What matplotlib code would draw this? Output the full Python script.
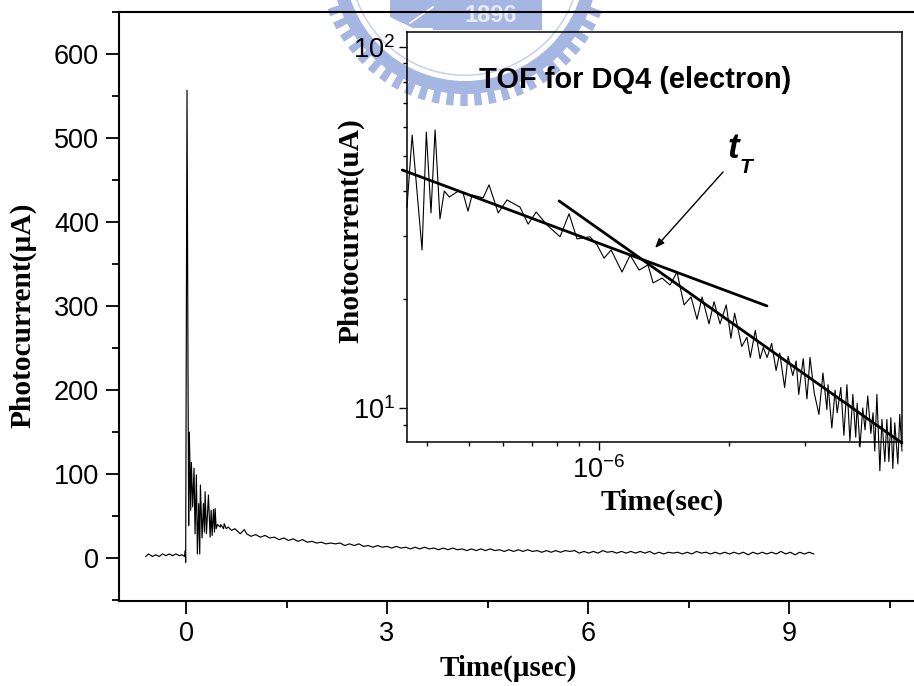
import numpy as np
import matplotlib
matplotlib.use("Agg")
import matplotlib.pyplot as plt
from matplotlib.patches import Wedge, Rectangle, Polygon
from matplotlib.ticker import FixedLocator, NullFormatter, MultipleLocator

plt.rcParams['font.family'] = ['Liberation Sans', 'DejaVu Sans']
plt.rcParams['mathtext.fontset'] = 'custom'
plt.rcParams['mathtext.rm'] = 'Liberation Sans'

# ---- main trace (time in microseconds, photocurrent in microamps)
pre_time = [-0.60,-0.56,-0.50,-0.45,-0.40,-0.35,-0.30,-0.25,-0.20,-0.15,-0.10,-0.06,-0.02,-0.01]
pre_current = [2,5,2,4,2,5,3,5,3,5,3,4,2,9]
burst_time = [-0.005,0.005,0.015,0.03,0.04,0.05,0.07,0.08,0.10,0.12,0.135,0.155,0.17,0.19,0.205,0.215,0.24,0.26,0.275,0.285,0.305,0.335,0.36,0.375,0.39,0.41,0.425,0.435,0.45,0.47,0.51,0.52,0.56,0.57,0.60,0.63,0.68,0.73,0.81,0.87,0.905]
burst_current = [-5,300,557,220,39,150,57,114,61,107,29,99,5,65,5,87,24,65,31,79,29,75,25,57,27,58,31,59,35,40,37,40,35,41,35,37,33,35,29,34,29]
tail_time = [0.97,1.04,1.11,1.18,1.25,1.32,1.39,1.46,1.53,1.60,1.67,1.74,1.81,1.88,1.95,2.02,2.09,2.16,2.23,2.30,2.37,2.44,2.51,2.58,2.65,2.72,2.79,2.86,2.93,3.00,
             3.07,3.14,3.21,3.28,3.35,3.42,3.49,3.56,3.63,3.70,3.77,3.84,3.91,3.98,4.05,4.12,4.19,4.26,4.33,4.40,4.47,4.54,4.61,4.68,4.75,4.82,4.89,4.96,5.03,5.10,
             5.17,5.24,5.31,5.38,5.45,5.52,5.59,5.66,5.73,5.80,5.87,5.94,6.01,6.08,6.15,6.22,6.29,6.36,6.43,6.50,6.57,6.64,6.71,6.78,6.85,6.92,6.99,7.06,7.13,7.20,
             7.27,7.34,7.41,7.48,7.55,7.62,7.69,7.76,7.83,7.90,7.97,8.04,8.11,8.18,8.25,8.32,8.39,8.46,8.53,8.60,8.67,8.74,8.81,8.88,8.95,9.02,9.09,9.16,9.23,9.30,9.37]
tail_current = [26,28,25,27,24,25,22,24,21,23,20,22,19,20,18,19,17,18,17,18,15,17,15,17,14,15,13,15,13,14,
                12,14,12,13,11,13,11,13,11,12,10,12,10,12,10,11,9,11,9,11,9,11,9,10,8,10,8,10,8,10,
                8,9,7,9,7,9,7,9,8,9,6,8,6,8,6,9,7,8,6,8,6,8,6,8,6,8,5,7,5,7,
                6,7,5,7,5,8,6,7,5,7,5,7,5,7,5,7,4,7,5,7,5,7,5,8,5,7,4,7,5,7,5]

# ---- inset trace (time in microseconds, photocurrent in microamps)
inset_time = [0.359,0.369,0.389,0.398,0.408,0.417,0.428,0.438,0.45,0.472,0.484,0.497,0.508,0.539,0.556,0.584,0.612,0.656,0.685,0.715,0.758,0.812,0.852,0.889,0.953,0.989,1.027,1.066,1.13,1.18,1.238,1.298,1.334,1.399,1.46,1.515,1.573,1.633,1.686,1.732,1.797,1.846,1.906,
              1.97,2.02,2.06,2.14,2.2,2.24,2.3,2.36,2.4,2.45,2.51,2.57,2.62,2.69,2.74,2.81,2.86,2.9,2.97,3.03,3.08,3.15,3.23,3.3,3.37,3.39,3.46,3.52,3.56,3.63,3.69,3.75,3.81,3.87,3.93,3.96,4.02,4.08,4.13,4.19,4.26,4.31,4.35,4.4,4.47,4.52,4.59,4.64,4.69,4.74,4.79,4.84,4.92,4.97,5.03]
inset_current = [36.0,57.0,27.4,58.1,34.7,58.9,33.4,39.9,38.4,39.9,39.4,35.1,38.9,38.2,41.5,34.7,37.7,36.0,32.3,34.9,32.1,29.8,34.5,29.4,29.8,28.3,26.0,27.4,23.8,26.5,24.1,24.9,22.2,22.9,21.9,23.8,19.3,20.3,17.6,20.3,17.1,19.7,17.1,19.3,15.6,18.3,14.8,15.7,13.8,16.4,13.7,14.7,13.8,15.1,12.7,14.2,11.4,13.9,12.3,13.5,10.9,13.7,10.6,13.8,11.0,9.6,12.5,9.9,11.6,8.8,11.2,9.7,11.4,8.4,11.6,8.1,10.9,8.3,10.3,7.8,10.0,8.7,10.8,8.5,9.7,7.6,10.9,6.7,9.3,7.1,9.3,7.1,9.4,6.8,9.1,7.0,9.6,7.6]
fit_early_time = [0.350,2.448]
fit_early_current = [45.63,19.17]
fit_late_time = [0.808,5.028]
fit_late_current = [37.45,8.00]
arrow_start = (1.937,45.05)
arrow_tip = (1.348,27.75)

W, H = 914, 686
fig = plt.figure(figsize=(W/100, H/100), dpi=100, facecolor='white')
def box(l, t, r, b):
    return [l/W, 1-b/H, (r-l)/W, (b-t)/H]

# ---- watermark seal behind everything (figure pixel space)
bg = fig.add_axes([0,0,1,1], zorder=0)
bg.set_xlim(0,W); bg.set_ylim(H,0); bg.axis('off')
seal = '#a6b6e2'
cx, cy = 465, -40
bg.add_patch(Wedge((cx,cy),134,0,180,width=13,fc=seal,ec='none'))
for a in np.arange(22,160,5.7):
    bg.add_patch(Wedge((cx,cy),146,a-1.5,a+1.5,width=14,fc=seal,ec='none'))
bg.add_patch(Wedge((cx,cy),116,0,180,width=1.5,fc='#c6d0ec',ec='none'))
bg.add_patch(Rectangle((433,0),109,30,fc=seal,ec='none'))
bg.add_patch(Polygon([(390,0),(433,0),(433,28),(413,28),(390,17)],fc=seal,ec='none'))
bg.plot([410,433],[23,7],color='white',lw=1.2)
bg.text(491,15,'1896',color='#e6ebf8',ha='center',va='center',fontsize=17,fontweight='bold')

# ---- main axes
ax = fig.add_axes(box(119,12,914,601), zorder=1)
ax.patch.set_alpha(0)
ax.set_xlim(-1,(914-186)/67)
ax.set_ylim(-51,650)
ax.plot(pre_time+burst_time+tail_time, pre_current+burst_current+tail_current, color='black', lw=0.85)
ax.spines['right'].set_visible(False)
for s in ('left','bottom','top'):
    ax.spines[s].set_linewidth(1.5)
ax.set_xticks([0,3,6,9])
ax.xaxis.set_minor_locator(MultipleLocator(1.5))
ax.set_yticks([0,100,200,300,400,500,600])
ax.yaxis.set_minor_locator(MultipleLocator(50))
ax.tick_params(axis='both', which='major', length=9.4, width=1.3, labelsize=19.5, pad=5)
ax.tick_params(axis='both', which='minor', length=5, width=1.3)
ax.set_xlabel('Time(\u00b5sec)', family=['Liberation Serif'], fontweight='bold', fontsize=21)
ax.xaxis.set_label_coords((508-119)/795, -(668-601)/589, transform=ax.transAxes)
ax.xaxis.label.set_verticalalignment('center')
ax.set_ylabel('Photocurrent(\u00b5A)', family=['Liberation Serif'], fontweight='bold', fontsize=21.2)
ax.yaxis.set_label_coords(-(119-23)/795, (601-315)/589, transform=ax.transAxes)
ax.yaxis.label.set_verticalalignment('center')

# ---- inset axes
ins = fig.add_axes(box(407,32,902,442), zorder=2)
ins.patch.set_alpha(0)
ins.set_xscale('log'); ins.set_yscale('log')
ins.set_xlim(3.59e-7,5.03e-6)
ins.set_ylim(8.05,110)
to_sec = 1e-6
ins.plot(np.array(inset_time)*to_sec, inset_current, color='black', lw=0.8, clip_on=False)
ins.plot(np.array(fit_early_time)*to_sec, fit_early_current, color='black', lw=2.0, clip_on=False, solid_capstyle='round')
ins.plot(np.array(fit_late_time)*to_sec, fit_late_current, color='black', lw=2.0, clip_on=False, solid_capstyle='round')
ins.annotate('', xy=(arrow_tip[0]*to_sec,arrow_tip[1]), xytext=(arrow_start[0]*to_sec,arrow_start[1]),
             arrowprops=dict(arrowstyle='-|>,head_length=0.55,head_width=0.22', color='black', lw=1.0, shrinkA=0, shrinkB=0))
for s in ins.spines.values():
    s.set_linewidth(1.1)
ins.xaxis.set_major_locator(FixedLocator([1e-6]))
ins.xaxis.set_minor_locator(FixedLocator([4e-7,5e-7,6e-7,7e-7,8e-7,9e-7,2e-6,3e-6,4e-6,5e-6]))
ins.xaxis.set_minor_formatter(NullFormatter())
ins.set_xticklabels([r'$\mathregular{10^{-6}}$'])
ins.yaxis.set_major_locator(FixedLocator([10,100]))
ins.yaxis.set_minor_locator(FixedLocator([9,20,30,40,50,60,70,80,90]))
ins.yaxis.set_minor_formatter(NullFormatter())
ins.set_yticklabels([r'$\mathregular{10^{1}}$', r'$\mathregular{10^{2}}$'])
ins.tick_params(axis='both', which='major', length=5.5, width=1.0, labelsize=19.5)
ins.tick_params(axis='x', which='major', pad=5)
ins.tick_params(axis='y', which='major', pad=3)
ins.tick_params(axis='both', which='minor', length=3.2, width=1.0)
ins.set_xlabel('Time(sec)', family=['Liberation Serif'], fontweight='bold', fontsize=21.4)
ins.xaxis.set_label_coords((662-407)/495, -(502-442)/410, transform=ins.transAxes)
ins.xaxis.label.set_verticalalignment('center')
ins.set_ylabel('Photocurrent(uA)', family=['Liberation Serif'], fontweight='bold', fontsize=21.2)
ins.yaxis.set_label_coords(-(407-351)/495, (442-231)/410, transform=ins.transAxes)
ins.yaxis.label.set_verticalalignment('center')

# ---- annotations
fig.text(635.5/W, 1-80/H, 'TOF for DQ4 (electron)', ha='center', va='center', fontsize=20.9, fontweight='bold')
fig.text(728/W, 1-158/H, 't', ha='left', va='baseline', fontsize=25, fontweight='bold', style='italic')
fig.text(740/W, 1-173/H, 'T', ha='left', va='baseline', fontsize=15, fontweight='bold', style='italic')

fig.savefig('out.png', dpi=100)
